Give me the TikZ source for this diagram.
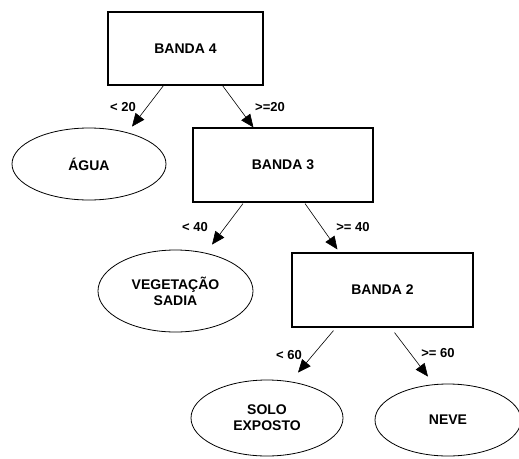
\documentclass[tikz,border=0pt]{standalone}
\usepackage{fontspec}
\setmainfont{Liberation Sans}
\usetikzlibrary{arrows.meta,shapes.geometric,calc}
\begin{document}
\begin{tikzpicture}[x=1pt,y=-1pt,
  every node/.style={font=\fontsize{14}{16}\selectfont\bfseries},
  testbox/.style={draw,line width=1.1pt,minimum width=155pt,minimum height=73pt,inner sep=0pt},
  leaf/.style={draw,ellipse,line width=0.8pt,inner sep=0pt,align=center},
  arr/.style={line width=0.6pt,-{Triangle[length=13pt,width=11pt]}},
  cond/.style={inner sep=0pt,font=\fontsize{13}{15}\selectfont\bfseries}]
  \useasboundingbox (0,0) rectangle (519,458);

  % decision boxes
  \node[testbox] (b4) at (185.5,48.5) {BANDA 4};
  \node[testbox,minimum width=180pt,minimum height=74pt] (b3) at (283,165) {BANDA 3};
  \node[testbox,minimum width=181pt,minimum height=74pt] (b2) at (382.5,290) {BANDA 2};

  % leaf classes
  \node[leaf,minimum width=154pt,minimum height=72pt] (agua) at (89,164) {ÁGUA};
  \node[leaf,minimum width=155pt,minimum height=82pt] (veg) at (175.5,291) {VEGETAÇÃO\\SADIA};
  \node[leaf,minimum width=152pt,minimum height=76pt] (solo) at (267,418) {SOLO\\EXPOSTO};
  \node[leaf,minimum width=146pt,minimum height=72pt] (neve) at (448,420) {NEVE};

  % branches
  \draw[arr] ([xshift=-22pt]b4.south) -- ($(agua.north)+(43,-1)$);
  \draw[arr] ([xshift=37pt]b4.south) -- ($(b3.north west)+(61,0)$);
  \draw[arr] ([xshift=-40pt,yshift=-1pt]b3.south) -- ($(veg.north)+(36.5,-5)$);
  \draw[arr] ([xshift=22pt,yshift=-1pt]b3.south) -- ($(b2.north west)+(46,-3)$);
  \draw[arr] ([xshift=-49pt,yshift=-3pt]b2.south) -- ($(solo.north)+(31,-7)$);
  \draw[arr] ([xshift=12pt,yshift=-5pt]b2.south) -- ($(neve.north)+(-20,-7)$);

  % branch conditions
  \node[cond] (c1) at (123,107) {< 20};
  \node[cond] (c2) at (270,107) {>=20};
  \node[cond] (c3) at (195,227) {< 40};
  \node[cond] (c4) at (353,227) {>= 40};
  \node[cond] (c5) at (289,355) {< 60};
  \node[cond] (c6) at (438,353) {>= 60};
\end{tikzpicture}
\end{document}
